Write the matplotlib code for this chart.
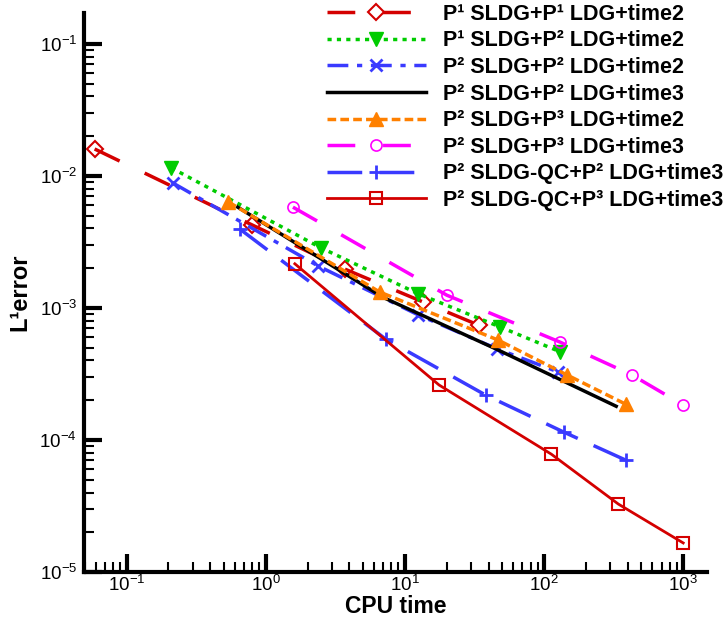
import matplotlib
matplotlib.use("Agg")
import matplotlib.pyplot as plt
from matplotlib.ticker import LogLocator, NullFormatter

plt.rcParams['font.family'] = ['Liberation Sans', 'DejaVu Sans']
plt.rcParams['mathtext.fontset'] = 'custom'
plt.rcParams['mathtext.rm'] = 'Liberation Sans'
plt.rcParams['mathtext.it'] = 'Liberation Sans:italic'
plt.rcParams['mathtext.bf'] = 'Liberation Sans:bold'

# data (CPU time, L1 error)
t_p1p1_t2 = [0.059, 0.80, 3.7, 13.5, 34]
e_p1p1_t2 = [1.60e-2, 4.25e-3, 1.97e-3, 1.11e-3, 7.4e-4]

t_p1p2_t2 = [0.21, 2.5, 12.5, 48, 131]
e_p1p2_t2 = [1.15e-2, 2.85e-3, 1.28e-3, 7.2e-4, 4.65e-4]

t_p2p2_t2 = [0.215, 2.38, 12.5, 46, 127]
e_p2p2_t2 = [8.85e-3, 2.08e-3, 8.85e-4, 4.9e-4, 3.27e-4]

t_p2p2_t3 = [0.63, 7.0, 45, 330]
e_p2p2_t3 = [5.8e-3, 1.2e-3, 4.9e-4, 1.8e-4]

t_p2p3_t2 = [0.54, 6.6, 47, 147, 385]
e_p2p3_t2 = [6.35e-3, 1.32e-3, 5.7e-4, 3.1e-4, 1.87e-4]

t_p2p3_t3 = [1.57, 20, 131, 430, 1000]
e_p2p3_t3 = [5.8e-3, 1.25e-3, 5.5e-4, 3.1e-4, 1.84e-4]

t_qc_p2_t3 = [0.65, 7.3, 38, 138, 385]
e_qc_p2_t3 = [3.97e-3, 5.8e-4, 2.19e-4, 1.15e-4, 7.05e-5]

t_qc_p3_t3 = [1.62, 17.6, 113, 342, 1000]
e_qc_p3_t3 = [2.16e-3, 2.61e-4, 7.8e-5, 3.27e-5, 1.66e-5]

labels = ['P¹ SLDG+P¹ LDG+time2',
          'P¹ SLDG+P² LDG+time2',
          'P² SLDG+P² LDG+time2',
          'P² SLDG+P² LDG+time3',
          'P² SLDG+P³ LDG+time2',
          'P² SLDG+P³ LDG+time3',
          'P² SLDG-QC+P² LDG+time3',
          'P² SLDG-QC+P³ LDG+time3']

fig = plt.figure(figsize=(7.26, 6.29), dpi=100)
ax = fig.add_axes([0.1157, 0.0906, 0.858, 0.888])

lw = 2.5
ax.plot(t_p1p1_t2, e_p1p1_t2, color='#d40000', lw=lw, dashes=(8, 8),
        marker='D', ms=8, mfc='none', mew=1.5, label=labels[0])
ax.plot(t_p1p2_t2, e_p1p2_t2, color='#00cc00', lw=lw, dashes=(1.2, 1.5),
        marker='v', ms=10, label=labels[1])
ax.plot(t_p2p2_t2, e_p2p2_t2, color='#3a3aff', lw=lw, dashes=(6, 2.5, 1.5, 2.5),
        marker='x', ms=8, mew=2, label=labels[2])
ax.plot(t_p2p2_t3, e_p2p2_t3, color='black', lw=lw, label=labels[3])
ax.plot(t_p2p3_t2, e_p2p3_t2, color='#ff8000', lw=lw, dashes=(2.5, 1.2),
        marker='^', ms=10, label=labels[4])
ax.plot(t_p2p3_t3, e_p2p3_t3, color='#ff00ff', lw=lw, dashes=(8, 8),
        marker='o', ms=8, mfc='none', mew=1.2, label=labels[5])
ax.plot(t_qc_p2_t3, e_qc_p2_t3, color='#3a3aff', lw=lw, dashes=(10, 5),
        marker='+', ms=10, mew=2, label=labels[6])
ax.plot(t_qc_p3_t3, e_qc_p3_t3, color='#d40000', lw=2,
        marker='s', ms=8, mfc='none', mew=1.5, label=labels[7])

ax.set_xscale('log')
ax.set_yscale('log')
ax.set_xlim(0.0495, 1480)
ax.set_ylim(1e-5, 0.17)

for s in ['top', 'right']:
    ax.spines[s].set_visible(False)
for s in ['left', 'bottom']:
    ax.spines[s].set_linewidth(3)

ax.xaxis.set_minor_locator(LogLocator(base=10, subs=range(2, 10), numticks=20))
ax.yaxis.set_minor_locator(LogLocator(base=10, subs=range(2, 10), numticks=20))
ax.xaxis.set_minor_formatter(NullFormatter())
ax.yaxis.set_minor_formatter(NullFormatter())
ax.tick_params(which='major', direction='in', length=13, width=3,
               labelsize=13.5, pad=5, top=False, right=False)
ax.tick_params(axis='x', which='major', pad=2)
ax.tick_params(which='minor', direction='in', length=7, width=1.5,
               top=False, right=False)

ax.set_xlabel('CPU time', fontsize=16.5, fontweight='bold', labelpad=0)
ax.set_ylabel('L¹error', fontsize=17, fontweight='bold', labelpad=6)

leg = ax.legend(loc='upper right', bbox_to_anchor=(1.033, 1.025), frameon=False,
                prop={'size': 15.5, 'weight': 'bold'}, handlelength=4.6,
                handletextpad=0.8, labelspacing=0.26, borderaxespad=0.1,
                borderpad=0.1)

fig.savefig('out.png', dpi=100)
